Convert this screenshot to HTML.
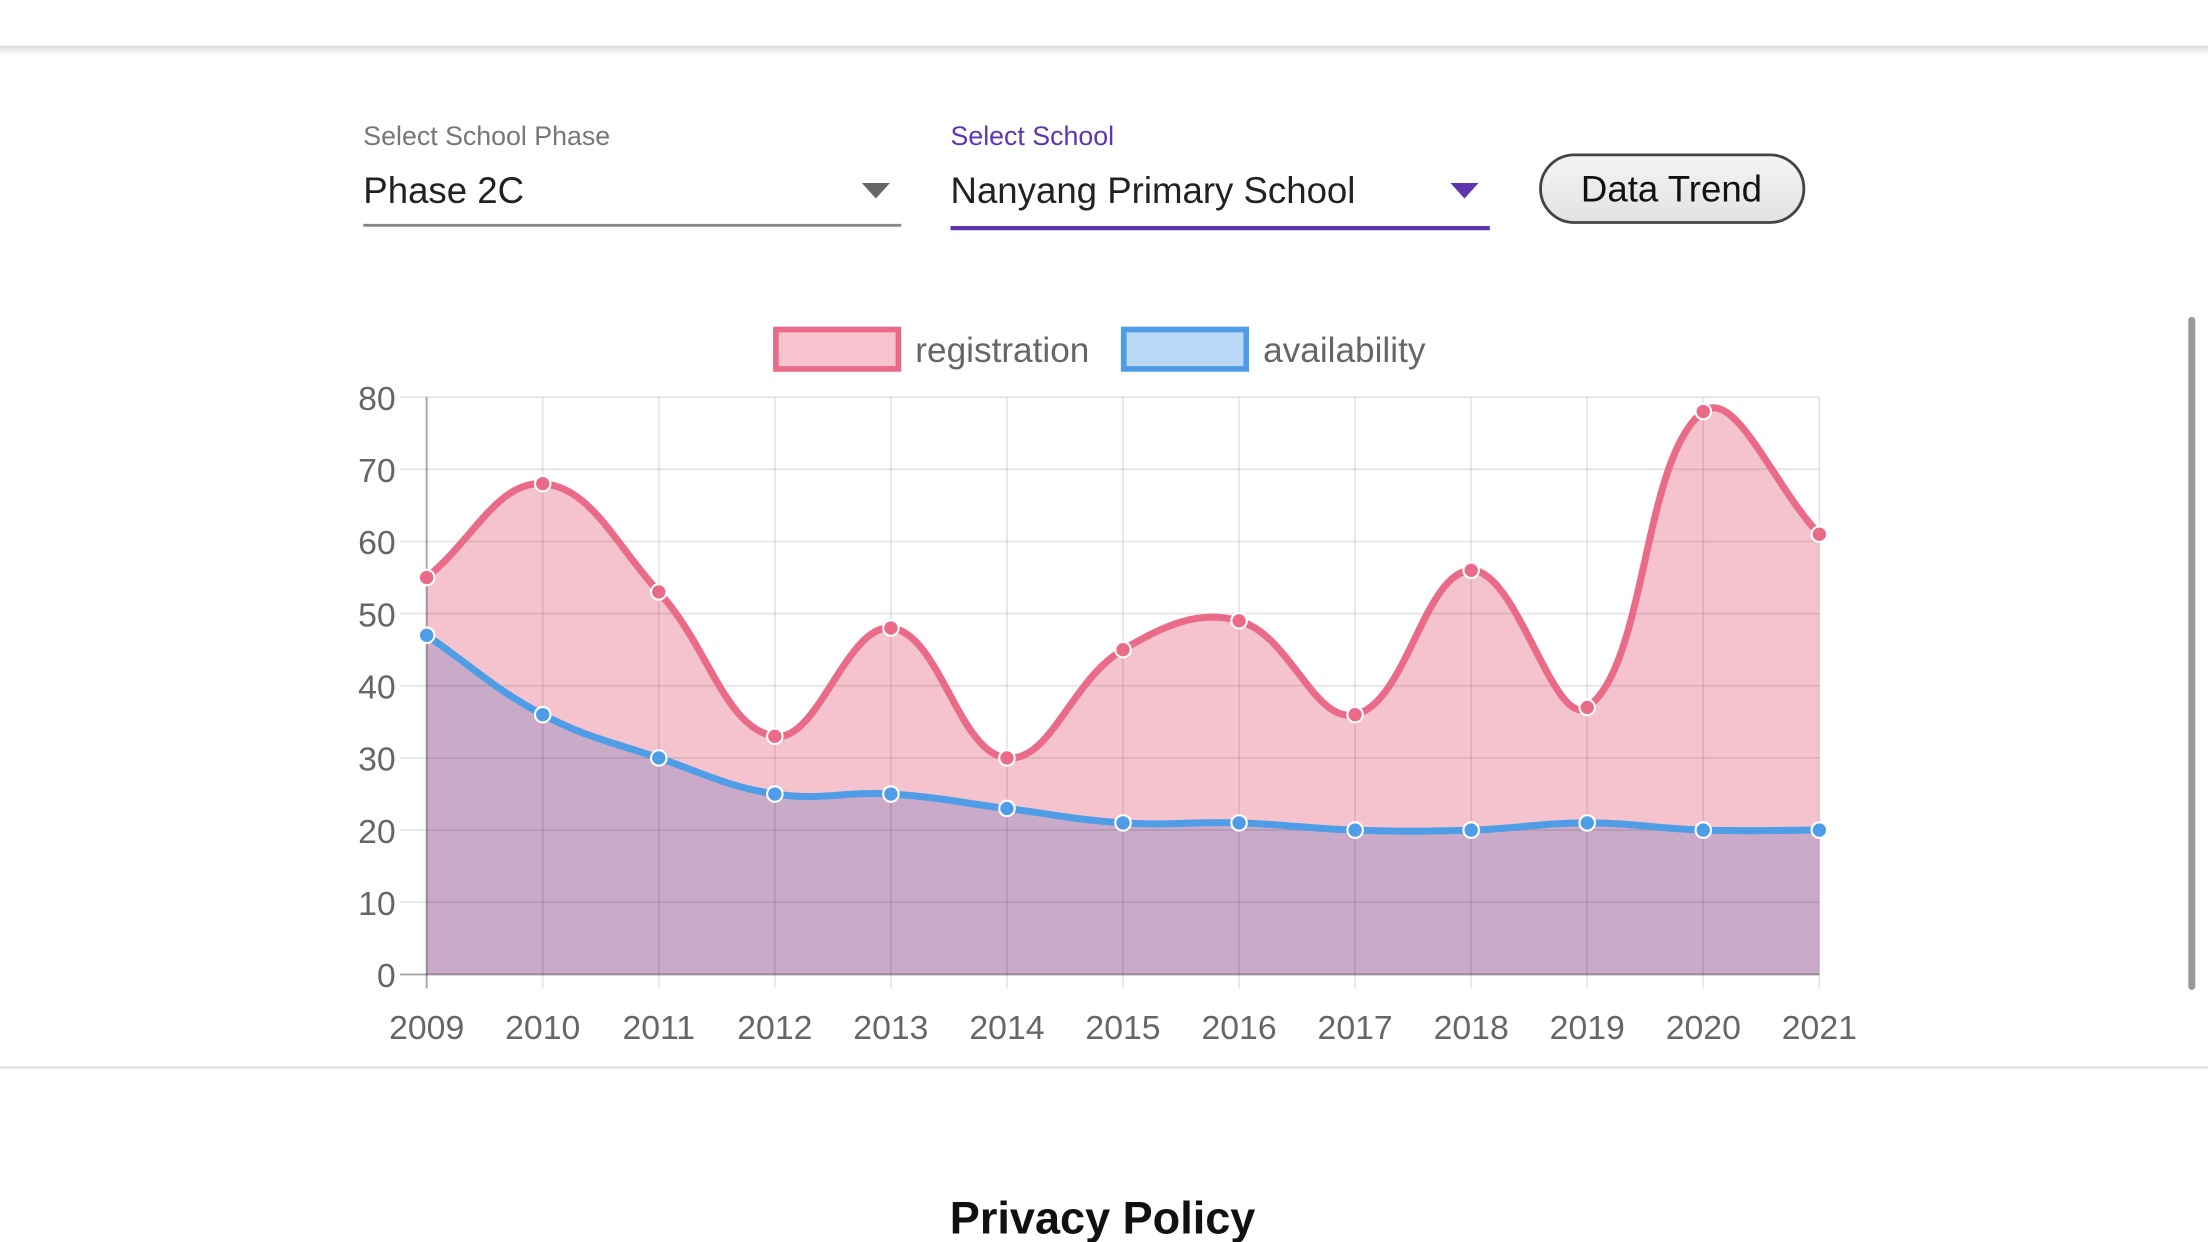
<!DOCTYPE html>
<html><head><meta charset="utf-8"><style>
html,body{margin:0;padding:0;background:#fff;width:2208px;height:1242px;overflow:hidden}
text{font-family:"Liberation Sans",sans-serif}
</style></head><body>
<svg id="s" width="2208" height="1242" viewBox="0 0 1568 882" xmlns="http://www.w3.org/2000/svg">
<defs>
<linearGradient id="bg" x1="0" y1="0" x2="0" y2="1"><stop offset="0" stop-color="#f4f4f4"/><stop offset="1" stop-color="#e2e2e2"/></linearGradient>
<linearGradient id="sh" x1="0" y1="0" x2="0" y2="1"><stop offset="0" stop-color="#000" stop-opacity="0.12"/><stop offset="1" stop-color="#000" stop-opacity="0"/></linearGradient>
</defs>
<rect x="0" y="0" width="1568" height="33" fill="#fff"/>
<rect x="0" y="33" width="1568" height="6" fill="url(#sh)"/>
<line x1="0" y1="33" x2="1568" y2="33" stroke="#ddd" stroke-width="1"/>

<text x="258" y="103" font-size="19" fill="#777">Select School Phase</text>
<text x="258" y="144" font-size="26" fill="#222">Phase 2C</text>
<line x1="258" y1="160" x2="640" y2="160" stroke="#888" stroke-width="2"/>
<polygon points="612,130 632,130 622,141" fill="#666"/>

<text x="675" y="103" font-size="19" fill="#5e35b1">Select School</text>
<text x="675" y="144" font-size="26" fill="#222">Nanyang Primary School</text>
<line x1="675" y1="162" x2="1058" y2="162" stroke="#5e35b1" stroke-width="3"/>
<polygon points="1030,130 1050,130 1040,141" fill="#5e35b1"/>

<rect x="1094" y="110" width="187" height="48" rx="24" fill="url(#bg)" stroke="#444" stroke-width="2"/>
<text x="1187" y="143" font-size="26" fill="#111" text-anchor="middle">Data Trend</text>

<rect x="551" y="234" width="87" height="28" fill="#f6c3cf" stroke="#ea6b87" stroke-width="4"/>
<text x="650" y="257" font-size="25" fill="#666">registration</text>
<rect x="798" y="234" width="87" height="28" fill="#b9d8f5" stroke="#4e9de6" stroke-width="4"/>
<text x="897" y="257" font-size="25" fill="#666">availability</text>

<g id="chart"></g>

<line x1="0" y1="758" x2="1568" y2="758" stroke="#ddd" stroke-width="1.5"/>
<text x="783" y="876" font-size="32" font-weight="bold" fill="#111" text-anchor="middle">Privacy Policy</text>
<rect x="1554" y="225" width="5" height="478" rx="2.5" fill="#999"/>
</svg>
<script>
var NS="http://www.w3.org/2000/svg",g=document.getElementById("chart");
function el(t,a,txt){var e=document.createElementNS(NS,t);for(var k in a)e.setAttribute(k,a[k]);if(txt!=null)e.textContent=txt;g.appendChild(e);return e}
var X0=303,DX=(1292-303)/12,Y0=692,DY=(692-282)/80;
var reg=[55,68,53,33,48,30,45,49,36,56,37,78,61],av=[47,36,30,25,25,23,21,21,20,20,21,20,20];
function pts(d){return d.map(function(v,i){return[X0+i*DX,Y0-v*DY]})}
function path(p){var t=0.4,c=[];for(var i=0;i<p.length;i++){var pr=p[i-1]||p[i],nx=p[i+1]||p[i],cu=p[i];var d1=Math.hypot(cu[0]-pr[0],cu[1]-pr[1]),d2=Math.hypot(nx[0]-cu[0],nx[1]-cu[1]);var s=d1+d2||1,fa=t*d1/s,fb=t*d2/s;c.push([[cu[0]-fa*(nx[0]-pr[0]),cu[1]-fa*(nx[1]-pr[1])],[cu[0]+fb*(nx[0]-pr[0]),cu[1]+fb*(nx[1]-pr[1])]])}
var s="M"+p[0][0]+","+p[0][1];for(i=1;i<p.length;i++){s+=" C"+c[i-1][1][0]+","+c[i-1][1][1]+" "+c[i][0][0]+","+c[i][0][1]+" "+p[i][0]+","+p[i][1]}return s}
var pr=pts(reg),pa=pts(av),sr=path(pr),sa=path(pa);
el("path",{d:sr+" L1292,692 L303,692 Z",fill:"#f5c3ce"});
el("path",{d:sa+" L1292,692 L303,692 Z",fill:"#c9abc9"});
for(var v=0;v<=80;v+=10){var y=Y0-v*DY;el("line",{x1:284,y1:y,x2:1292,y2:y,stroke:"rgba(0,0,0,0.1)","stroke-width":1.2});el("text",{x:281,y:y+9,"font-size":24,fill:"#666","text-anchor":"end"},v)}
for(var i=0;i<13;i++){var x=X0+i*DX;el("line",{x1:x,y1:282,x2:x,y2:702,stroke:"rgba(0,0,0,0.1)","stroke-width":1.2});el("text",{x:x,y:738,"font-size":24,fill:"#666","text-anchor":"middle"},2009+i)}
el("line",{x1:303,y1:282,x2:303,y2:702,stroke:"rgba(0,0,0,0.25)","stroke-width":1.5});
el("line",{x1:284,y1:692,x2:1292,y2:692,stroke:"rgba(0,0,0,0.25)","stroke-width":1.5});
el("path",{d:sr,fill:"none",stroke:"#ea6b87","stroke-width":5});
el("path",{d:sa,fill:"none",stroke:"#4e9de6","stroke-width":5});
pr.forEach(function(p){el("circle",{cx:p[0],cy:p[1],r:5.5,fill:"#ea6b87",stroke:"#fff","stroke-width":1.5})});
pa.forEach(function(p){el("circle",{cx:p[0],cy:p[1],r:5.5,fill:"#4e9de6",stroke:"#fff","stroke-width":1.5})});
</script>
</body></html>
